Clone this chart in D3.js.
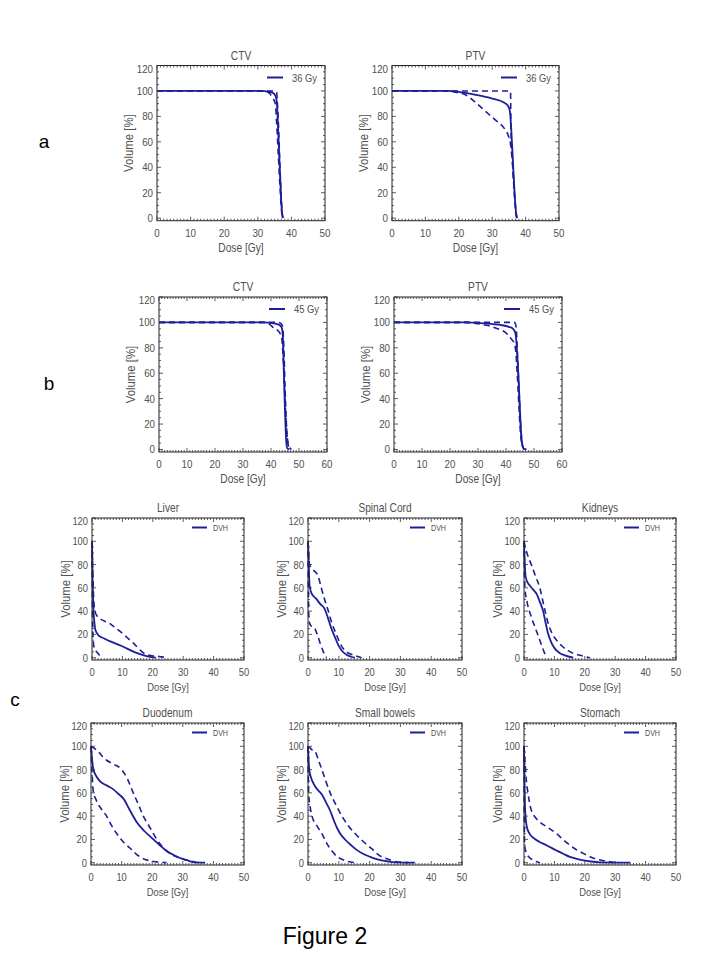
<!DOCTYPE html>
<html><head><meta charset="utf-8">
<script src="https://cdn.jsdelivr.net/npm/d3@7/dist/d3.min.js"></script>
<style>body{margin:0;background:#fff}svg{display:block}</style>
</head><body>
<script>
// ---------- DATA (dose [Gy], volume [%]) ----------
const ctv36Mean  = [[0,100],[31,100],[33,99.5],[34.5,98.5],[35.3,96],[35.7,90],[36.2,60],[36.7,30],[37.1,8],[37.4,0]];
const ctv36Upper = [[0,100],[35,100],[35.6,99],[35.8,92],[36.2,70],[36.6,40],[37,15],[37.3,3],[37.6,0]];
const ctv36Lower = [[0,100],[32,100],[33.5,98],[34.3,95],[35.2,90],[35.6,75],[36.1,50],[36.6,25],[37.1,5],[37.4,0]];

const ptv36Mean  = [[0,100],[16.5,100],[20,99.3],[25,97],[30,94],[33.5,91],[34.8,88],[35.3,84],[35.7,70],[36.2,45],[36.7,20],[37.1,5],[37.4,0]];
const ptv36Upper = [[0,100],[35.2,100],[35.5,99],[35.6,70],[36,50],[36.5,25],[37,8],[37.4,0]];
const ptv36Lower = [[0,100],[16.5,100],[20,98.5],[22,97],[25,91],[28,84],[31,77],[33.5,71],[34.8,65],[35.5,58],[36,45],[36.5,25],[37,8],[37.3,0]];

const ctv45Mean  = [[0,100],[37,100],[41,99.3],[43,98],[43.8,96],[44.2,90],[44.6,60],[45,30],[45.4,8],[45.8,1],[46.5,0]];
const ctv45Upper = [[0,100],[42.5,100],[43.6,99],[44.2,96],[44.6,80],[45,50],[45.5,20],[46,5],[46.8,0]];
const ctv45Lower = [[0,100],[37.5,100],[39.5,98.5],[41.3,95],[42.5,93.5],[43.8,88],[44.4,70],[45,40],[45.6,15],[46.3,3],[47.3,0]];

const ptv45Mean  = [[0,100],[25,100],[32,99.3],[38,98],[41,96.5],[42.5,95],[43.3,92],[43.7,85],[44,75],[44.5,55],[45,30],[45.5,10],[46,2],[46.5,0]];
const ptv45Upper = [[0,100],[43,100],[43.5,98],[43.8,90],[44.2,70],[44.7,45],[45.2,20],[45.7,6],[46.3,0]];
const ptv45Lower = [[0,100],[25.5,100],[30,99],[33.5,97.5],[37,95],[39.5,92.5],[41.9,87],[43,83],[43.5,77],[44,60],[44.6,35],[45.2,12],[45.8,3],[46.5,0.5],[47.5,0]];

const liverMean  = [[0,100],[0.2,65],[0.5,40],[0.8,30],[1.1,24],[2.2,19],[4,16.5],[6,14],[9.8,10],[14.2,4.5],[18.6,1],[21,0]];
const liverUpper = [[0,100],[0.3,70],[0.6,48],[1,40],[1.6,36],[6,29],[10.4,20],[13.6,12.5],[17,4],[19,2],[22,1],[25,0]];
const liverLower = [[0,100],[0.1,60],[0.2,35],[0.35,18],[0.6,10],[1,7],[1.6,4.8],[2.3,2.5],[3.3,0]];

const cordMean  = [[0,100],[0.2,85],[0.5,62],[1.2,55],[2.7,50.5],[4,46],[5.4,42],[6.5,34],[7.6,25],[8.7,18],[9.8,11],[11,6],[12.5,2.5],[14,0.8],[15.2,0]];
const cordUpper = [[0,100],[0.2,90],[0.5,80],[1.5,76],[3.3,70],[4.3,60],[5.4,50],[6.5,41],[7.6,31],[9.2,20],[10.9,10],[12.5,5],[14,3],[15.5,1.5],[17.4,0]];
const cordLower = [[0,100],[0.1,65],[0.3,32],[0.8,28],[2.2,25],[3,20],[4,12],[5,5],[6,0]];

const kidneyMean  = [[0,100],[0.2,85],[0.5,70],[1.1,65],[1.9,62],[3,58.5],[4.1,55],[5.2,48],[6.3,40],[7.1,30],[7.9,21],[9,13],[10.1,8],[11.7,4],[13.4,2],[16.2,0]];
const kidneyUpper = [[0,100],[0.4,95],[1.2,88],[2.4,80],[3.8,70],[5.2,60],[6.5,45],[7.9,30],[9.2,21],[10.7,15],[12.5,10],[14.5,6],[16.5,3.5],[18.4,2],[21.7,0]];
const kidneyLower = [[0,100],[0.1,80],[0.3,60],[1,48],[2.4,35],[3.8,25],[5.2,15],[6.3,7],[7.4,0]];

const duoMean  = [[0,100],[0.3,90],[0.8,80],[1.8,74],[2.9,70],[5,66.5],[7.3,63],[9,59],[10.6,55],[12.7,45],[14.9,35],[17.5,27],[20.4,20],[22.5,15],[24.7,10],[27.5,6],[30.2,3],[32,1.5],[33.4,0.5],[37.3,0]];
const duoUpper = [[0,100],[1.2,98],[2.4,95.5],[3.8,91],[5.1,88],[7.5,84.5],[10,80],[11.9,72],[13.8,60],[15.5,50],[17.1,40],[19.3,30],[21.5,20],[23.6,13],[25.8,8],[28,5],[30.2,3],[32.5,1.5],[34.5,0]];
const duoLower = [[0,100],[0.3,80],[0.8,60],[1.5,55],[2.4,50],[3.7,45],[5.1,40],[6.7,32],[8.4,25],[10.5,18],[12.7,12.6],[14.5,8],[16,5],[18,2.5],[20.4,1],[24.7,0]];

const bowelMean  = [[0,100],[0.2,88],[0.4,80],[1,73],[1.8,68],[3,63],[4.5,58.5],[6,51],[7.2,44.6],[8.3,37],[9.4,30],[10.7,24],[12.1,19.7],[14,15],[15.8,11],[18,7.5],[20.2,5],[22,3.3],[23.9,2],[26,1],[28.2,0.3],[34.7,0]];
const bowelUpper = [[0,100],[0.5,99],[1.3,97],[2.4,95],[3.4,88],[4.5,80],[5.8,70],[7.2,60],[9,50],[11,40],[13,32],[15.3,25],[18,18],[20.7,12],[22.3,8],[23.9,5],[26,3],[28.2,1],[32.5,0]];
const bowelLower = [[0,100],[0.1,75],[0.2,60],[0.7,48],[1.3,40],[2.8,32],[4.5,25],[6,17],[7.8,10],[9.3,5.5],[11,3],[13,1],[15.3,0]];

const stomachMean  = [[0,100],[0.1,80],[0.3,50],[0.6,37],[1,30],[1.8,25],[3,21.5],[5,18],[7.4,15],[10.7,10.5],[13,7.5],[15.1,5],[17.3,3.3],[19.5,2],[22,1],[25,0.3],[35,0]];
const stomachUpper = [[0,100],[0.4,85],[0.8,70],[1.3,60],[1.8,52],[2.4,45],[3.7,39],[5.2,35],[8,30],[10.7,25],[13,19.5],[15.1,15],[17.3,11],[19.5,8],[21.7,5],[23.9,3],[27,1.3],[30.5,0]];
const stomachLower = [[0,100],[0.05,70],[0.1,40],[0.2,15],[0.7,9],[1.7,4.6],[3,2.3],[4,1],[5.2,0]];

const titles = ["CTV","PTV","CTV","PTV","Liver","Spinal Cord","Kidneys","Duodenum","Small bowels","Stomach"];
const legendLabels = ["36 Gy","36 Gy","45 Gy","45 Gy","DVH","DVH","DVH","DVH","DVH","DVH"];
const doseMax = [50,50,60,60,50,50,50,50,50,50];
const yTicks = [0,20,40,60,80,100,120];
const curves = [
  [ctv36Mean,ctv36Upper,ctv36Lower],[ptv36Mean,ptv36Upper,ptv36Lower],
  [ctv45Mean,ctv45Upper,ctv45Lower],[ptv45Mean,ptv45Upper,ptv45Lower],
  [liverMean,liverUpper,liverLower],[cordMean,cordUpper,cordLower],[kidneyMean,kidneyUpper,kidneyLower],
  [duoMean,duoUpper,duoLower],[bowelMean,bowelUpper,bowelLower],[stomachMean,stomachUpper,stomachLower]
];

// ---------- LAYOUT ----------
const boxes = [
  {x0:157,x1:325,y0:65.5,y1:220.7,big:true},
  {x0:392,x1:559,y0:65.5,y1:220.7,big:true},
  {x0:159,x1:327,y0:297,y1:452,big:true},
  {x0:394,x1:562,y0:297,y1:452,big:true},
  {x0:92,x1:244,y0:518,y1:660,big:false},
  {x0:308,x1:462,y0:518,y1:660,big:false},
  {x0:524,x1:676,y0:518,y1:660,big:false},
  {x0:91,x1:244,y0:723,y1:865,big:false},
  {x0:308,x1:462,y0:723,y1:865,big:false},
  {x0:524,x1:676,y0:723,y1:865,big:false}
];
const LINE = "#1e1e9a";
const TXT = "#505050";
const FONT = "'Liberation Sans', Arial, sans-serif";

const svg = d3.select("body").append("svg").attr("width",720).attr("height",960);

function txt(g, x, y, s, size, sx, anchor, rot){
  return g.append("text")
    .attr("transform", `translate(${x},${y})` + (rot?` rotate(${rot})`:"") + ` scale(${sx},1)`)
    .attr("font-family", FONT).attr("font-size", size).attr("fill", TXT)
    .attr("text-anchor", anchor || "middle").text(s);
}

boxes.forEach((b,i) => {
  const g = svg.append("g");
  const x = d3.scaleLinear().domain([0,doseMax[i]]).range([b.x0,b.x1]);
  const y = d3.scaleLinear().domain([-2,120]).range([b.y1,b.y0]);
  const xStep = 10;
  const xTicks = d3.range(0, doseMax[i]+0.01, xStep);
  const xMinor = d3.range(0, doseMax[i]+0.01, 1);
  const yMinor = d3.range(0, 120.01, 5);

  // curves
  const line = d3.line().x(d=>x(d[0])).y(d=>y(d[1])).curve(d3.curveMonotoneX);
  const [mean, upper, lower] = curves[i];
  [upper, lower].forEach(c => {
    g.append("path").attr("d", line(c)).attr("fill","none").attr("stroke",LINE)
      .attr("stroke-width",1.6).attr("stroke-dasharray","6,4");
  });
  g.append("path").attr("d", line(mean)).attr("fill","none").attr("stroke",LINE).attr("stroke-width",1.8);

  // frame
  g.append("rect").attr("x",b.x0).attr("y",b.y0).attr("width",b.x1-b.x0).attr("height",b.y1-b.y0)
    .attr("fill","none").attr("stroke","#222").attr("stroke-width",1);
  const tk = g.append("g").attr("stroke","#333").attr("stroke-width",0.8);
  xMinor.forEach(v => {
    const L = (v % xStep === 0) ? 4 : 2;
    tk.append("line").attr("x1",x(v)).attr("x2",x(v)).attr("y1",b.y1).attr("y2",b.y1-L);
    tk.append("line").attr("x1",x(v)).attr("x2",x(v)).attr("y1",b.y0).attr("y2",b.y0+L);
  });
  yMinor.forEach(v => {
    const L = (v % 20 === 0) ? 4 : 2;
    tk.append("line").attr("y1",y(v)).attr("y2",y(v)).attr("x1",b.x0).attr("x2",b.x0+L);
    tk.append("line").attr("y1",y(v)).attr("y2",y(v)).attr("x1",b.x1).attr("x2",b.x1-L);
  });

  // tick labels
  const fs = b.big ? 11.5 : 11;
  xTicks.forEach(v => txt(g, x(v), b.y1+16, d3.format("d")(v), fs, 0.85));
  yTicks.forEach(v => {
    const yy = y(v) + 4 + (v===120 ? 3 : 0);
    txt(g, b.x0-4, yy, d3.format("d")(v), fs, 0.85, "end");
  });

  // axis titles
  txt(g, (b.x0+b.x1)/2, b.y1+31, "Dose [Gy]", b.big?12:11, 0.85);
  txt(g, b.x0-(b.big?24:22), (b.y0+b.y1)/2, "Volume [%]", 12, 0.95, "middle", -90);
  txt(g, (b.x0+b.x1)/2, b.y0-6, titles[i], 12, 0.85);

  // legend
  if (b.big) {
    g.append("line").attr("x1",b.x1-58).attr("x2",b.x1-42).attr("y1",b.y0+12).attr("y2",b.y0+12)
      .attr("stroke",LINE).attr("stroke-width",2);
    txt(g, b.x1-33, b.y0+16, legendLabels[i], 11, 0.85, "start");
  } else {
    g.append("line").attr("x1",b.x1-52).attr("x2",b.x1-37).attr("y1",b.y0+9.5).attr("y2",b.y0+9.5)
      .attr("stroke",LINE).attr("stroke-width",2);
    txt(g, b.x1-31, b.y0+13, legendLabels[i], 9.5, 0.75, "start");
  }
});

// panel letters + figure caption
const sideLabels = [{s:"a",x:44,y:148},{s:"b",x:49,y:390},{s:"c",x:15,y:706}];
sideLabels.forEach(l => svg.append("text").attr("x",l.x).attr("y",l.y).attr("text-anchor","middle")
  .attr("font-family",FONT).attr("font-size",19).attr("fill","#000").text(l.s));
svg.append("text").attr("x",325).attr("y",944).attr("text-anchor","middle")
  .attr("font-family",FONT).attr("font-size",23).attr("fill","#000").text("Figure 2");
</script>
</body></html>
